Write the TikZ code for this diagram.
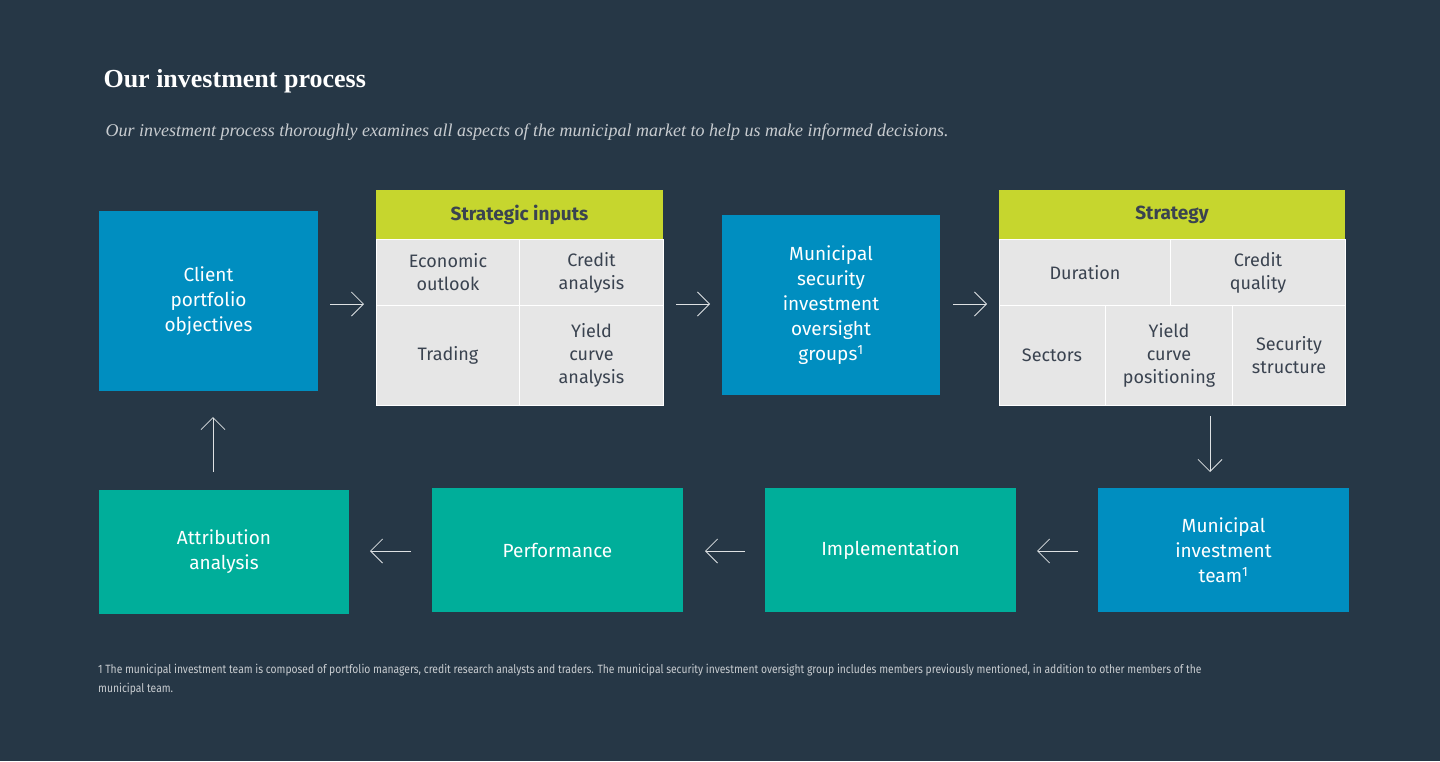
\documentclass[tikz,border=0pt]{standalone}
\usepackage{fontspec}
\setmainfont{Fira Sans}
\newfontfamily\titlefont{Liberation Serif}
\usetikzlibrary{arrows.meta}
\definecolor{bgColor}{RGB}{38,55,70}
\definecolor{blueColor}{RGB}{0,142,192}
\definecolor{greenColor}{RGB}{0,174,154}
\definecolor{limeColor}{RGB}{198,214,46}
\definecolor{cellColor}{RGB}{230,230,230}
\definecolor{inkColor}{RGB}{58,67,80}
\definecolor{noteColor}{RGB}{200,204,208}
\tikzset{
  box/.style={inner sep=0pt, align=center, text=white,
    font=\fontsize{19}{25}\selectfont},
  bluebox/.style={box, fill=blueColor},
  greenbox/.style={box, fill=greenColor},
  head/.style={box, fill=limeColor, text=inkColor,
    font=\fontsize{19}{25}\selectfont\bfseries},
  cell/.style={box, fill=cellColor, draw=white, line width=1pt, text=inkColor,
    font=\fontsize{18}{23}\selectfont},
  flow/.style={draw=white!85!bgColor, line width=0.8pt,
    -{Straight Barb[length=12pt,width=24pt,line width=0.8pt]}}
}
\begin{document}
\begin{tikzpicture}[x=1pt,y=-1pt]
\fill[bgColor] (0,0) rectangle (1440,761);

% title and subtitle
\node[anchor=base west, text=white, font=\titlefont\fontsize{26}{30}\selectfont\bfseries]
  (title) at (100,87) {Our investment process};
\node[anchor=base west, text=noteColor, font=\titlefont\fontsize{18}{22}\selectfont\itshape]
  (subtitle) at (102,136) {Our investment process thoroughly examines all aspects of the municipal market to help us make informed decisions.};

% top row
\node[bluebox, minimum width=219, minimum height=180] (client) at (208.5,301)
  {Client\\portfolio\\objectives};

\node[head, minimum width=287, minimum height=49] (inputs) at (519.5,214.5) {Strategic inputs};
\node[cell, minimum width=144, minimum height=66] (econ) at (448,272.5) {Economic\\outlook};
\node[cell, minimum width=144, minimum height=66] (credit) at (591.5,272.5) {Credit\\analysis};
\node[cell, minimum width=144, minimum height=100] (trading) at (448,355.5) {Trading};
\node[cell, minimum width=144, minimum height=100] (yield) at (591.5,355.5) {Yield\\curve\\analysis};

\node[bluebox, minimum width=218, minimum height=180] (oversight) at (831,305)
  {Municipal\\security\\investment\\oversight\\groups\textsuperscript{1}};

\node[head, minimum width=346, minimum height=49] (strategy) at (1172,214.5) {Strategy};
\node[cell, minimum width=172, minimum height=66] (duration) at (1085,272.5) {Duration};
\node[cell, minimum width=175, minimum height=66] (quality) at (1258,272.5) {Credit\\quality};
\node[cell, minimum width=106, minimum height=100] (sectors) at (1052,355.5) {Sectors};
\node[cell, minimum width=128, minimum height=100] (positioning) at (1169,355.5) {Yield\\curve\\positioning};
\node[cell, minimum width=113, minimum height=100] (structure) at (1289,355.5) {Security\\structure};

% bottom row
\node[bluebox, minimum width=251, minimum height=124] (team) at (1223.5,550)
  {Municipal\\investment\\team\textsuperscript{1}};
\node[greenbox, minimum width=251, minimum height=124] (implementation) at (890.5,550) {Implementation};
\node[greenbox, minimum width=251, minimum height=124] (performance) at (557.5,550) {Performance};
\node[greenbox, minimum width=250, minimum height=124] (attribution) at (224,552)
  {Attribution\\analysis};

% connectors
\coordinate (a1) at (330,304);  \coordinate (b1) at (364,304);
\coordinate (a2) at (676,304);  \coordinate (b2) at (710,304);
\coordinate (a3) at (953,304);  \coordinate (b3) at (987,304);
\coordinate (a4) at (1210,416); \coordinate (b4) at (1210,472);
\coordinate (a5) at (1078,551); \coordinate (b5) at (1037,551);
\coordinate (a6) at (745,551);  \coordinate (b6) at (705,551);
\coordinate (a7) at (411,551);  \coordinate (b7) at (370,551);
\coordinate (a8) at (213,472);  \coordinate (b8) at (213,417);
\foreach \i in {1,...,8}
  \draw[flow] (a\i) -- (b\i);

% footnote
\node[anchor=north west, align=left, text=noteColor, inner sep=0pt,
  font=\fontsize{12}{19}\selectfont] (note) at (98,664)
  {\scalebox{0.86}[1]{1 The municipal investment team is composed of portfolio managers, credit research analysts and traders. The municipal security investment oversight group includes members previously mentioned, in addition to other members of the}\\
   \scalebox{0.86}[1]{municipal team.}};
\end{tikzpicture}
\end{document}
